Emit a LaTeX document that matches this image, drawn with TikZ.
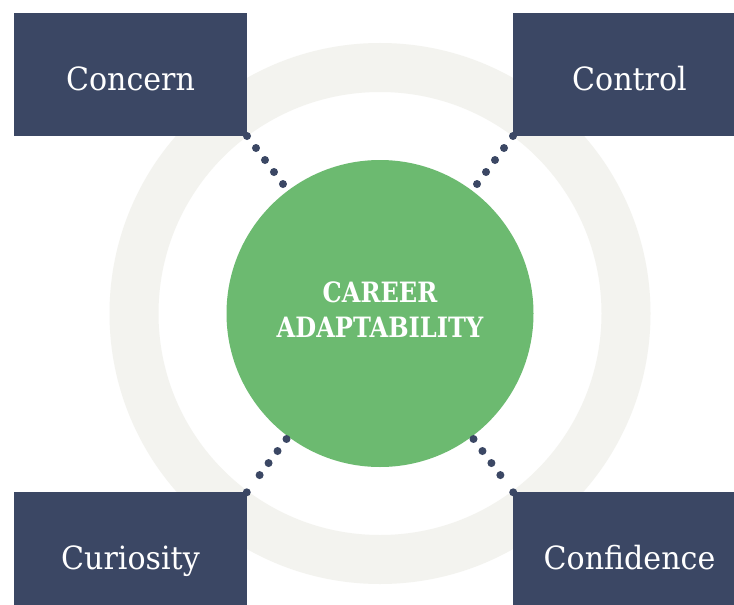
\documentclass[tikz,border=0pt]{standalone}
\usepackage{fontspec}
\setmainfont{DejaVu Serif}
\newfontfamily\boxfont[FakeStretch=0.94]{DejaVu Serif}
\newfontfamily\titlefont[FakeStretch=0.86]{DejaVu Serif}
\definecolor{navy}{HTML}{3B4764}
\definecolor{leaf}{HTML}{6CBA70}
\definecolor{halo}{HTML}{F3F3EF}

\tikzset{
  box/.style={fill=navy, text=white, minimum width=233pt, minimum height=123pt,
    inner sep=0pt, outer sep=0pt, font=\boxfont\fontsize{32}{38}\selectfont,
    text height=32pt, text depth=0pt},
  hub/.style={circle, fill=leaf, minimum size=307pt, inner sep=0pt, outer sep=0pt},
  dotline/.style={navy, line width=8pt, line cap=round, dash pattern=on 0pt off 15pt},
  lowdots/.style={dotline, shorten <=3pt, shorten >=-1pt,
    dash pattern=on 0pt off 15pt on 0pt off 15pt on 0pt off 15pt on 0pt off 21.5pt on 0pt off 60pt},
}

\begin{document}
\begin{tikzpicture}[x=1pt, y=-1pt]
  \useasboundingbox (0,0) rectangle (734,605);
  \clip (0,0) rectangle (734,605);
  \fill[white] (0,0) rectangle (734,605);

  % Halo ring (behind)
  \coordinate (mid) at (380,313.5);
  \draw[halo, line width=49pt] (mid) circle[radius=246];

  % Hub
  \node[hub] (hub) at (mid) {};
  \node[text=white, align=center, font=\titlefont\bfseries\fontsize{28}{35}\selectfont]
    (title) at ([yshift=4pt]hub.center) {CAREER\\ADAPTABILITY};

  % The four dimensions
  \node[box] (concern) at (130.5,74.5) {Concern};
  \node[box] (control) at (629.5,74.5) {Control};
  \node[box] (curiosity) at (130.5,553.5) {Curiosity};
  \node[box] (confidence) at (629.5,553.5) {Confidence};

  % Dotted links
  \draw[dotline] (concern.south east) -- (hub);
  \draw[dotline] (control.south west) -- (hub);
  \draw[lowdots] (hub) -- (curiosity.north east);
  \draw[lowdots] (hub) -- (confidence.north west);
\end{tikzpicture}
\end{document}
